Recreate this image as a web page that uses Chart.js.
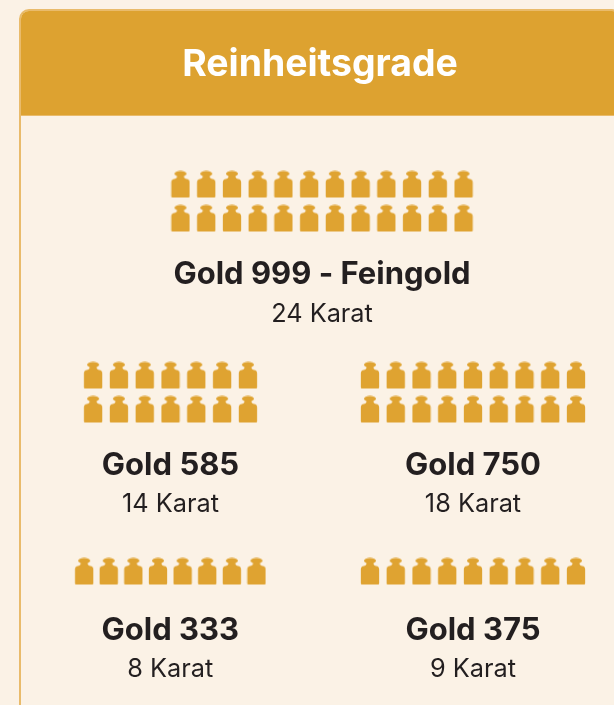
<!DOCTYPE html>
<html lang="de">
<head>
<meta charset="utf-8">
<title>Reinheitsgrade</title>
<script src="https://cdn.jsdelivr.net/npm/chart.js@4"></script>
<style>
html,body{margin:0;padding:0;width:614px;height:705px;overflow:hidden;background:#fbf2e6}
#card{position:absolute;left:19px;top:9px;width:603px;height:760px;box-sizing:border-box;border:2px solid #e9bb6b;border-radius:10px 10px 0 0;background:#fbf2e6;overflow:hidden}
#band{position:absolute;left:0;top:0;right:0;height:104px;background:#dda230;border-bottom:1px solid #e9bb6b;box-sizing:content-box}
#wrap{position:absolute;left:21px;top:0;width:598px;height:705px}
</style>
</head>
<body>
<div id="card"><div id="band"></div></div>
<div id="wrap"><canvas id="c" width="598" height="705"></canvas></div>
<script>
// Data
const chartTitle = "Reinheitsgrade";
const grades = ["Gold 999 - Feingold", "Gold 585", "Gold 750", "Gold 333", "Gold 375"];
const karat = [24, 14, 18, 8, 9];
const karatLabels = ["24 Karat", "14 Karat", "18 Karat", "8 Karat", "9 Karat"];

// Layout of each pictogram block
const perRow = [12, 7, 9, 8, 9];
const blockCenterX = [322, 170.5, 473, 170.3, 473];
const blockTopY = [184.5, 375.5, 375.5, 571.5, 571.5];
const blockStepX = [25.73, 25.8, 25.75, 24.62, 25.75];
const rowStepY = 34;
const labelY = [275, 466, 466, 631, 631];
const subLabelY = [314.5, 504.5, 504.5, 669.5, 669.5];

const gold = "#dfa331";
const ink = "#231f20";
const fontFamily = "Inter, sans-serif";

function weightIcon() {
  const c = document.createElement("canvas");
  c.width = 20; c.height = 28;
  const g = c.getContext("2d");
  g.fillStyle = gold;
  g.beginPath();
  g.ellipse(10, 3.3, 6, 2.9, 0, 0, Math.PI * 2);
  g.fill();
  g.beginPath();
  g.moveTo(6.5, 5);
  g.lineTo(13.5, 5);
  g.lineTo(13.5, 6.6);
  g.quadraticCurveTo(13.8, 8.2, 16, 8.4);
  g.quadraticCurveTo(19.15, 8.8, 19.15, 11.8);
  g.lineTo(19.15, 26);
  g.quadraticCurveTo(19.15, 27, 18.1, 27);
  g.lineTo(1.9, 27);
  g.quadraticCurveTo(0.85, 27, 0.85, 26);
  g.lineTo(0.85, 11.8);
  g.quadraticCurveTo(0.85, 8.8, 4, 8.4);
  g.quadraticCurveTo(6.2, 8.2, 6.5, 6.6);
  g.closePath();
  g.fill();
  return c;
}
const icon = weightIcon();

const datasets = karat.map((n, k) => {
  const pts = [];
  for (let i = 0; i < n; i++) {
    const col = i % perRow[k];
    const row = Math.floor(i / perRow[k]);
    pts.push({
      x: blockCenterX[k] + (col - (perRow[k] - 1) / 2) * blockStepX[k],
      y: blockTopY[k] + row * rowStepY
    });
  }
  return {label: grades[k], data: pts, pointStyle: icon, pointRadius: 10, pointHoverRadius: 10, showLine: false};
});

const labelPlugin = {
  id: "gradeLabels",
  afterDatasetsDraw(chart) {
    const {ctx, scales: {x, y}} = chart;
    ctx.save();
    ctx.textAlign = "center";
    ctx.textBaseline = "middle";
    ctx.fillStyle = ink;
    grades.forEach((name, k) => {
      ctx.font = "bold 31px " + fontFamily;
      ctx.fillText(name, x.getPixelForValue(blockCenterX[k]), y.getPixelForValue(labelY[k]));
      ctx.font = "25.3px " + fontFamily;
      ctx.fillText(karatLabels[k], x.getPixelForValue(blockCenterX[k]), y.getPixelForValue(subLabelY[k]));
    });
    ctx.restore();
  }
};

new Chart(document.getElementById("c"), {
  type: "scatter",
  data: {datasets},
  plugins: [labelPlugin],
  options: {
    responsive: false,
    animation: false,
    layout: {padding: 0, autoPadding: false},
    plugins: {
      legend: {display: false},
      tooltip: {enabled: false},
      title: {
        display: true,
        text: chartTitle,
        color: "#ffffff",
        font: {family: fontFamily, size: 37.4, weight: "bold", lineHeight: 1.2},
        padding: {top: 42, bottom: 28.1}
      }
    },
    scales: {
      x: {type: "linear", display: false, min: 21, max: 619},
      y: {type: "linear", display: false, reverse: true, min: 115, max: 705}
    }
  }
});
</script>
</body>
</html>
